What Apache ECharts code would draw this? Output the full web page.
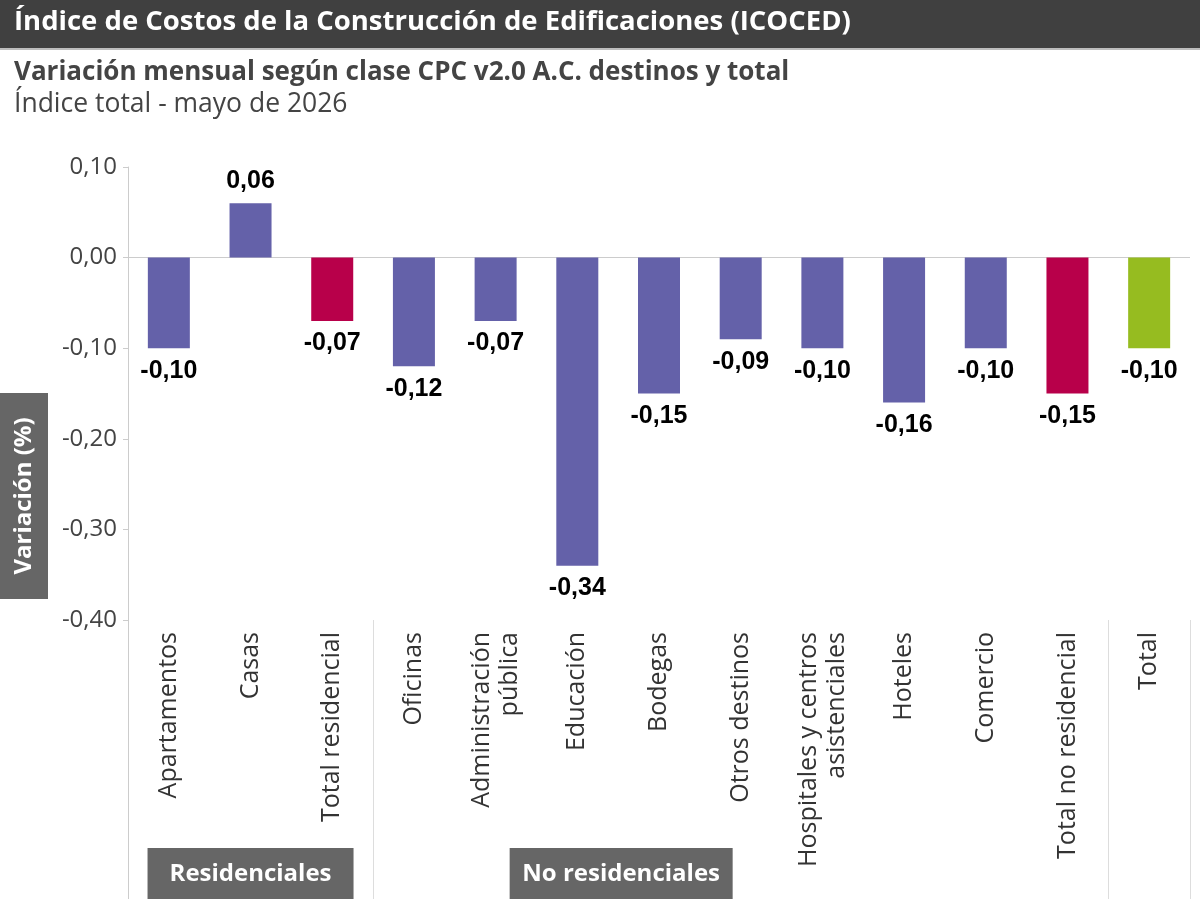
<!DOCTYPE html>
<html lang="es">

<head>
    <meta charset="UTF-8">
    <title>ICOCED</title>
    <script src="https://cdn.jsdelivr.net/npm/echarts@6/dist/echarts.min.js"></script>
    <style>
        html, body { margin: 0; padding: 0; background: #fff; }
    </style>
</head>

<body>
    <div id="main" style="width: 1200px; height: 899px;"></div>
    <script type="text/javascript">
        // datos
        var categorias = ['Apartamentos', 'Casas', 'Total residencial', 'Oficinas', 'Administración\npública',
            'Educación', 'Bodegas', 'Otros destinos', 'Hospitales y centros\nasistenciales', 'Hoteles',
            'Comercio', 'Total no residencial', 'Total'];
        var valores = [-0.10, 0.06, -0.07, -0.12, -0.07, -0.34, -0.15, -0.09, -0.10, -0.16, -0.10, -0.15, -0.10];
        var tipos = ['d', 'd', 't', 'd', 'd', 'd', 'd', 'd', 'd', 'd', 'd', 't', 'g'];
        var grupos = [
            { nombre: 'Residenciales', desde: 0, hasta: 2 },
            { nombre: 'No residenciales', desde: 3, hasta: 11 }
        ];

        var colores = { d: '#6461a9', t: '#b8004a', g: '#96bc20' };
        var fuente = '"Open Sans", sans-serif';

        var myChart = echarts.init(document.getElementById('main'));

        var option = {
            backgroundColor: '#fff',
            animation: false,
            grid: { left: 128, right: 10, top: 167, bottom: 279, containLabel: false },
            xAxis: {
                type: 'category',
                data: categorias,
                axisLine: { show: false },
                axisTick: { show: false },
                axisLabel: {
                    rotate: 90, interval: 0, margin: 12,
                    fontFamily: fuente, fontSize: 25, color: '#333', lineHeight: 28
                }
            },
            yAxis: {
                type: 'value',
                min: -0.4, max: 0.1, interval: 0.1,
                splitLine: { show: false },
                axisLine: { show: true, lineStyle: { color: '#cccccc' } },
                axisTick: { show: true, length: 5, lineStyle: { color: '#cccccc' } },
                axisLabel: {
                    fontFamily: fuente, fontSize: 24, color: '#444', margin: 11,
                    formatter: function (v) { return v.toFixed(2).replace('.', ','); }
                }
            },
            series: [{
                type: 'bar',
                barWidth: 42,
                data: valores.map(function (v, i) {
                    return {
                        value: v,
                        itemStyle: { color: colores[tipos[i]] },
                        label: { position: v >= 0 ? 'top' : 'bottom' }
                    };
                }),
                label: {
                    show: true, distance: 10,
                    fontFamily: '"Liberation Sans", Arial, sans-serif', fontWeight: 'bold',
                    fontSize: 25, color: '#000',
                    formatter: function (p) { return p.value.toFixed(2).replace('.', ','); }
                },
                markLine: {
                    silent: true, symbol: 'none', label: { show: false },
                    lineStyle: { color: '#cccccc', type: 'solid', width: 1 },
                    data: [{ yAxis: 0 }],
                    z: 0
                }
            }]
        };
        myChart.setOption(option);

        // separadores, caja del eje y grupos
        var h = 899;
        var yBase = myChart.convertToPixel({ yAxisIndex: 0 }, -0.4);
        var paso = myChart.convertToPixel({ xAxisIndex: 0 }, 1) - myChart.convertToPixel({ xAxisIndex: 0 }, 0);
        function borde(i) { return myChart.convertToPixel({ xAxisIndex: 0 }, i) - paso / 2; }

        var g = [
            { type: 'rect', shape: { x: 0, y: 0, width: 1200, height: 48 }, style: { fill: '#404040' } },
            { type: 'rect', shape: { x: 0, y: 48, width: 1200, height: 2 }, style: { fill: '#bdbdbd' } },
            { type: 'text', left: 14, top: 8, style: { text: 'Índice de Costos de la Construcción de Edificaciones (ICOCED)', fill: '#fff', font: 'bold 27.5px "Open Sans", sans-serif' } },
            { type: 'text', left: 14, top: 60, style: { text: 'Variación mensual según clase CPC v2.0 A.C. destinos y total', fill: '#444', font: 'bold 26px "Open Sans", sans-serif' } },
            { type: 'text', left: 14, top: 91, style: { text: 'Índice total - mayo de 2026', fill: '#444', font: '26.5px "Open Sans", sans-serif' } },
            { type: 'rect', shape: { x: 0, y: 393, width: 48, height: 206 }, style: { fill: '#666666' } },
            { type: 'text', x: 24, y: 496, rotation: Math.PI / 2, style: { text: 'Variación (%)', fill: '#fff', font: 'bold 24px "Open Sans", sans-serif', align: 'center', verticalAlign: 'middle' } },
            { type: 'line', shape: { x1: 128.5, y1: yBase, x2: 128.5, y2: h }, style: { stroke: '#cccccc', lineWidth: 1 } }
        ];
        [3, 12, 13].forEach(function (i) {
            var x = Math.round(borde(i)) + 0.5;
            g.push({ type: 'line', shape: { x1: x, y1: yBase, x2: x, y2: h }, style: { stroke: '#dddddd', lineWidth: 1 } });
        });
        grupos.forEach(function (gr) {
            var cx = gr.desde === 0 ? myChart.convertToPixel({ xAxisIndex: 0 }, 1) : borde(6) + 3;
            var w = gr.desde === 0 ? 206 : 223;
            g.push({ type: 'rect', shape: { x: cx - w / 2, y: 848, width: w, height: 51 }, style: { fill: '#666666' } });
            g.push({ type: 'text', x: cx, y: 874, style: { text: gr.nombre, fill: '#fff', font: 'bold 24px "Open Sans", sans-serif', align: 'center', verticalAlign: 'middle' } });
        });
        myChart.setOption({ graphic: g });
    </script>
</body>

</html>
